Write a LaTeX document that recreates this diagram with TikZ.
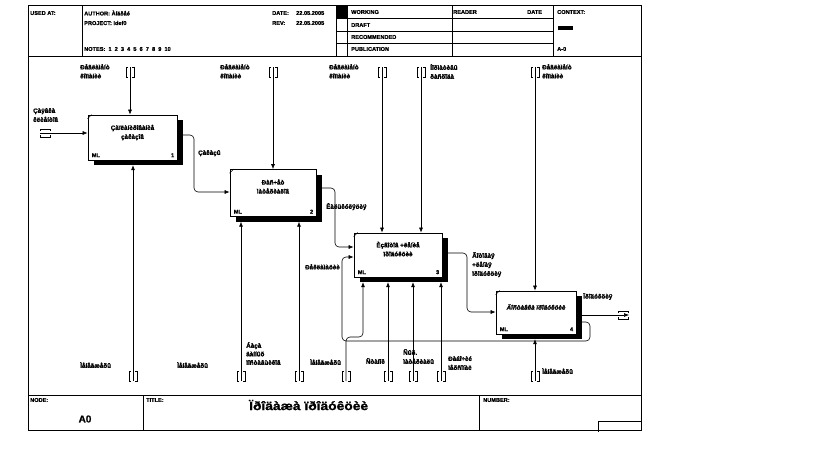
\documentclass[tikz,border=0pt]{standalone}
\usepackage{fontspec}
\setmainfont{Liberation Sans}
\newfontfamily\heavy[FakeBold=1.2]{Liberation Sans Bold}
\usetikzlibrary{arrows.meta}
\tikzset{
 lbl/.style={font=\fontsize{6.3}{9}\selectfont\heavy, align=left, inner sep=0pt, anchor=north west},
 hdr/.style={font=\fontsize{5.6}{7}\selectfont\heavy, inner sep=0pt, anchor=west},
 boxn/.style={draw, fill=white, line width=0.7pt, inner sep=0pt},
 boxtxt/.style={font=\fontsize{6.3}{9}\selectfont\heavy, align=center, inner sep=0pt},
 cornertxt/.style={font=\fontsize{5.6}{7}\selectfont\heavy, inner sep=0pt},
 shd/.style={fill=black, inner sep=0pt},
 arr/.style={-{Latex[length=5pt,width=4pt]}, line width=0.6pt, rounded corners=4pt},
 frm/.style={line width=0.7pt},
 tun/.style={line width=0.6pt},
}
\newcommand\tunV[2]{%
  \draw[tun] (#1-2,#2-5) -- (#1-4,#2-5) -- (#1-4,#2+5) -- (#1-2,#2+5);
  \draw[tun] (#1+2,#2-5) -- (#1+4,#2-5) -- (#1+4,#2+5) -- (#1+2,#2+5);}
\newcommand\tunH[2]{%
  \draw[tun] (#1-5,#2-2) -- (#1-5,#2-4) -- (#1+5,#2-4) -- (#1+5,#2-2);
  \draw[tun] (#1-5,#2+2) -- (#1-5,#2+4) -- (#1+5,#2+4) -- (#1+5,#2+2);}
\begin{document}
\begin{tikzpicture}[x=1pt,y=-1pt]
\useasboundingbox (0,0) rectangle (813,450);
% ---------- frame ----------
\draw[frm] (28,5) rectangle (641,430);
\draw[frm] (28,56) -- (641,56);
\draw[frm] (82,5) -- (82,56);
\draw[frm] (336,5) -- (336,56);
\draw[frm] (347,5) -- (347,56);
\draw[frm] (452,5) -- (452,56);
\draw[frm] (553,5) -- (553,56);
\foreach \yy in {18,31,43} \draw[frm] (336,\yy) -- (553,\yy);
\fill (336,5) rectangle (347,18);
\fill (558,26) rectangle (573,30);
\node[hdr] (usedat) at (30,13) {USED AT:};
\node[hdr] (author) at (84,13) {AUTHOR: Àíäðåé};
\node[hdr] (project) at (84,23) {PROJECT: Idef0};
\node[hdr] (notes) at (84,49) {NOTES:\ \ 1\ \ 2\ \ 3\ \ 4\ \ 5\ \ 6\ \ 7\ \ 8\ \ 9\ \ 10};
\node[hdr] (date) at (272,13) {DATE:};
\node[hdr] (dateval) at (296,13) {22.05.2005};
\node[hdr] (rev) at (272,23) {REV:};
\node[hdr] (revval) at (296,23) {22.05.2005};
\node[hdr] (working) at (351,12) {WORKING};
\node[hdr] (draft) at (351,25) {DRAFT};
\node[hdr] (recom) at (351,37) {RECOMMENDED};
\node[hdr] (publ) at (351,49) {PUBLICATION};
\node[hdr] (reader) at (453,12) {READER};
\node[hdr] (rdate) at (527,12) {DATE};
\node[hdr] (context) at (557,12) {CONTEXT:};
\node[hdr] (ctxnode) at (557,49) {A-0};
% footer
\draw[frm] (28,395) -- (641,395);
\draw[frm] (143,395) -- (143,430);
\draw[frm] (479,395) -- (479,430);
\draw[frm] (598,432) -- (598,421) -- (641,421);
\node[hdr] (nodel) at (30,400) {NODE:};
\node[hdr] (titlel) at (146,400) {TITLE:};
\node[hdr] (numberl) at (483,400) {NUMBER:};
\node[font=\fontsize{10}{11}\selectfont\heavy, inner sep=0pt] (a0) at (85,419) {A0};
\node[font=\fontsize{12}{13}\selectfont\heavy, inner sep=0pt, anchor=west, xscale=1.15] (title) at (249,405) {Ïðîäàæà ïðîäóêöèè};
% ---------- boxes ----------
\node[shd, minimum width=89pt, minimum height=45pt] (b1s) at (138.5,142.5) {};
\node[boxn, minimum width=89pt, minimum height=45pt] (b1) at (132.5,137.5) {};
\node[shd, minimum width=86pt, minimum height=47pt] (b2s) at (279,198) {};
\node[boxn, minimum width=86pt, minimum height=47pt] (b2) at (273,193) {};
\node[shd, minimum width=88pt, minimum height=44pt] (b3s) at (404,260) {};
\node[boxn, minimum width=88pt, minimum height=44pt] (b3) at (398,255) {};
\node[shd, minimum width=80pt, minimum height=43pt] (b4s) at (542,317.5) {};
\node[boxn, minimum width=80pt, minimum height=43pt] (b4) at (536,312.5) {};
\foreach \b in {b1,b2,b3,b4} {
  \draw[line width=0.5pt] ([shift={(0,4)}]\b.north west) -- ([shift={(4,0)}]\b.north west);
  \node[cornertxt, anchor=south west] at ([shift={(4,-3)}]\b.south west) {ML};
}
\node[cornertxt, anchor=south east] at ([shift={(-3,-3)}]b1.south east) {1};
\node[cornertxt, anchor=south east] at ([shift={(-3,-3)}]b2.south east) {2};
\node[cornertxt, anchor=south east] at ([shift={(-3,-3)}]b3.south east) {3};
\node[cornertxt, anchor=south east] at ([shift={(-3,-3)}]b4.south east) {4};
\node[boxtxt] (t1) at (132.5,132.5) {Çàïëàíèðîâàíèå\\çàêàçîâ};
\node[boxtxt] (t2) at (273,186.5) {Ðàñ÷åò\\ìàòåðèàëîâ};
\node[boxtxt] (t3) at (398,249) {Èçãîòîâ +ëåíèå\\ïðîäóêöèè};
\node[boxtxt, font=\fontsize{6.3}{9}\selectfont\heavy\itshape] (t4) at (536,307) {Äîñòàâêà ïðîäóêöèè};
% ---------- tunnels and end points ----------
\coordinate (c1) at (130,67);  \tunV{130}{72}
\coordinate (c2) at (273,67);  \tunV{273}{72}
\coordinate (c3a) at (382,67); \tunV{382}{72}
\coordinate (c3b) at (421,67); \tunV{421}{72}
\coordinate (c4) at (535,67);  \tunV{535}{72}
\coordinate (i1) at (40,133);  \tunH{45}{133}
\coordinate (o4) at (629,315); \tunH{623}{315}
\coordinate (m1) at (133,381);  \tunV{133}{376}
\coordinate (m2a) at (241,381); \tunV{241}{376}
\coordinate (m2b) at (299,381); \tunV{299}{376}
\coordinate (mj) at (346,381);  \tunV{346}{376}
\coordinate (m3a) at (388,381); \tunV{388}{376}
\coordinate (m3b) at (413,381); \tunV{413}{376}
\coordinate (m3c) at (441,381); \tunV{441}{376}
\coordinate (m4) at (535,381);  \tunV{535}{376}
% ---------- connectors ----------
\draw[arr] (c1) -- (c1 |- b1.north);
\draw[arr] (c2) -- (c2 |- b2.north);
\draw[arr] (c3a) -- (c3a |- b3.north);
\draw[arr] (c3b) -- (c3b |- b3.north);
\draw[arr] (c4) -- (c4 |- b4.north);
\draw[arr] (i1) -- (i1 -| b1.west);
\draw[arr] (m1) -- (m1 |- b1s.south);
\draw[arr] (m2a) -- (m2a |- b2s.south);
\draw[arr] (m2b) -- (m2b |- b2s.south);
\draw[arr] (m3a) -- (m3a |- b3s.south);
\draw[arr] (m3b) -- (m3b |- b3s.south);
\draw[arr] (m3c) -- (m3c |- b3s.south);
\draw[arr] (m4) -- (m4 |- b4s.south);
\draw[arr] (mj) -- (346,337) -- (363,337) -- (363,0 |- b3s.south);
\draw[arr] (b1s.east |- 0,135) -- (194,135) -- (194,192) -- (b2.west |- 0,192);
\draw[arr] (b2s.east |- 0,188) -- (335,188) -- (335,247) -- (b3.west |- 0,247);
\draw[arr] (b3s.east |- 0,253) -- (467,253) -- (467,312) -- (b4.west |- 0,312);
\draw[arr] (b4s.east |- 0,315) -- (o4);
\draw[arr] (b4s.east |- 0,322) -- (590,322) -- (590,341) -- (342,341) -- (342,257) -- (b3.west |- 0,257);
% ---------- labels ----------
\node[lbl] (lc1) at (80,64) {Ðåãëàìåíò\\êîìïàíèè};
\node[lbl] (lc2) at (220,64) {Ðåãëàìåíò\\êîìïàíèè};
\node[lbl] (lc3a) at (329,64) {Ðåãëàìåíò\\êîìïàíèè};
\node[lbl] (lc3b) at (430,64) {Íîðìàòèâû\\ðàñõîäà};
\node[lbl] (lc4) at (542,64) {Ðåãëàìåíò\\êîìïàíèè};
\node[lbl] (li1) at (33,108) {Çàÿâêà\\êëèåíòîâ};
\node[lbl] (lo1) at (198,150) {Çàêàçû};
\node[lbl] (lo2) at (326,203) {Êàëüêóëÿöèÿ};
\node[lbl] (lo3) at (472,252) {Ãîòîâàÿ\\+ëåíàÿ\\ïðîäóêöèÿ};
\node[lbl, anchor=north east] (li3) at (340,264) {Ðåêëàìàöèè};
\node[lbl] (lo4) at (583,293) {Ïðîäóêöèÿ};
\node[lbl] (lm1) at (80,362) {Ìåíåäæåðû};
\node[lbl] (lm2a) at (177,362) {Ìåíåäæåðû};
\node[lbl, font=\fontsize{6.3}{8.5}\selectfont\heavy] (lm2b) at (246,342) {Áàçà\\äàííûõ\\ïîñòàâùèêîâ};
\node[lbl] (lmj) at (310,359) {Ìåíåäæåðû};
\node[lbl, anchor=north east] (lm3a) at (385,358) {Ñòàíîê};
\node[lbl] (lm3b) at (403,349) {Ñûð.\\ìàòåðèàëû};
\node[lbl] (lm3c) at (448,356) {Ðàáî÷èé\\ïåðñîíàë};
\node[lbl] (lm4) at (542,368) {Ìåíåäæåðû};
\end{tikzpicture}
\end{document}
